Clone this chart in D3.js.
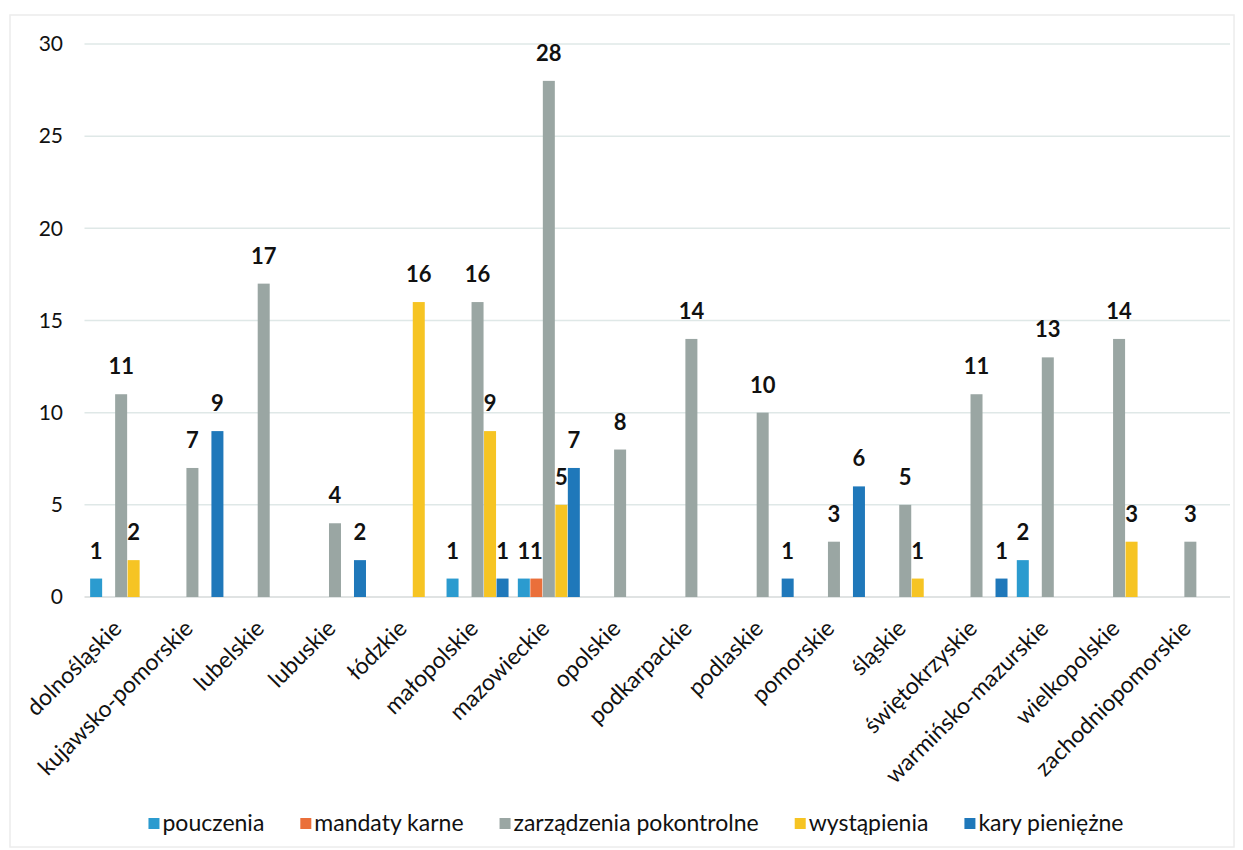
<!DOCTYPE html>
<html>
<head>
<meta charset="utf-8">
<script src="https://cdn.jsdelivr.net/npm/d3@7"></script>
<style>
  html, body { margin: 0; padding: 0; background: #fff; }
  svg { display: block; font-family: Lato, "Open Sans", sans-serif; }
</style>
</head>
<body>
<svg id="chart" width="1243" height="850"></svg>
<script>
const categories = ["dolnośląskie","kujawsko-pomorskie","lubelskie","lubuskie","łódzkie","małopolskie","mazowieckie","opolskie","podkarpackie","podlaskie","pomorskie","śląskie","świętokrzyskie","warmińsko-mazurskie","wielkopolskie","zachodniopomorskie"];
const seriesNames = ["pouczenia","mandaty karne","zarządzenia pokontrolne","wystąpienia","kary pieniężne"];
const seriesColors = ["#2b9bcf","#ea6f3a","#9aa6a3","#f6c423","#1f78ba"];
const pouczenia   = [1,0,0,0,0,1,1,0,0,0,0,0,0,2,0,0];
const mandatyKarne= [0,0,0,0,0,0,1,0,0,0,0,0,0,0,0,0];
const zarzadzenia = [11,7,17,4,0,16,28,8,14,10,3,5,11,13,14,3];
const wystapienia = [2,0,0,0,16,9,5,0,0,0,0,1,0,0,3,0];
const karyPieniezne=[0,9,0,2,0,1,7,0,0,1,6,0,1,0,0,0];
const yTicks = [0,5,10,15,20,25,30];

const seriesValues = [pouczenia, mandatyKarne, zarzadzenia, wystapienia, karyPieniezne];
const svg = d3.select("#chart");

// faint outer frame
svg.append("rect").attr("x",10).attr("y",15).attr("width",1224).attr("height",832)
  .attr("fill","none").attr("stroke","#ececec").attr("stroke-width",1.5);

const plotLeft = 85.5, plotRight = 1226, yBottom = 597, yTop = 44;
const y = d3.scaleLinear().domain([0,30]).range([yBottom, yTop]);
const x0 = d3.scaleBand().domain(categories).range([plotLeft, plotRight]).padding(0);
const groupW = 62.5;
const x1 = d3.scaleBand().domain(seriesNames)
  .range([(x0.bandwidth()-groupW)/2, (x0.bandwidth()+groupW)/2]).padding(0);

// gridlines
const grid = svg.append("g");
grid.selectAll("line").data(yTicks).join("line")
  .attr("x1", plotLeft - 1).attr("x2", plotRight + 4)
  .attr("y1", d => y(d)).attr("y2", d => y(d))
  .attr("stroke", d => d === 0 ? "#d6dada" : "#dfe8e7").attr("stroke-width", 1.5);

// y axis labels
const yAxis = d3.axisLeft(y).tickValues(yTicks).tickSize(0).tickPadding(0);
const yg = svg.append("g").attr("transform", "translate(63,0)").call(yAxis);
yg.select(".domain").remove();
yg.selectAll("text").attr("font-size", 21).attr("fill", "#111").attr("font-family","Lato, sans-serif");

// bars
const bw = 12;
const data = [];
categories.forEach((c, i) => {
  seriesNames.forEach((s, j) => {
    const v = seriesValues[j][i];
    if (v > 0) data.push({cat: c, ser: s, v, color: seriesColors[j]});
  });
});
const cx = d => x0(d.cat) + x1(d.ser) + x1.bandwidth()/2;
svg.append("g").selectAll("rect").data(data).join("rect")
  .attr("x", d => cx(d) - bw/2)
  .attr("y", d => y(d.v))
  .attr("width", bw)
  .attr("height", d => y(0) - y(d.v))
  .attr("fill", d => d.color);

// value labels
svg.append("g").selectAll("text").data(data).join("text")
  .attr("x", d => cx(d))
  .attr("y", d => y(d.v) - 20)
  .attr("text-anchor", "middle")
  .attr("font-size", 22).attr("font-weight", "bold").attr("fill", "#111")
  .text(d => d.v);

// category labels
const xAxis = d3.axisBottom(x0).tickSize(0).tickPadding(0);
const xg = svg.append("g").attr("transform", `translate(0,${yBottom})`).call(xAxis);
xg.select(".domain").remove();
xg.selectAll(".tick text")
  .attr("font-size", 23).attr("fill", "#111").attr("font-family","Lato, sans-serif")
  .attr("text-anchor", "end")
  .attr("dy", 0)
  .attr("transform", "translate(2,33) rotate(-45)")
  .attr("y", 0).attr("x", 0);

// legend
const legend = svg.append("g");
const items = legend.selectAll("g").data(seriesNames).join("g");
items.append("rect").attr("width", 11).attr("height", 11).attr("y", -13)
  .attr("fill", (d,i) => seriesColors[i]);
items.append("text").attr("x", 14).attr("y", 0).attr("font-size", 23).attr("fill", "#111")
  .text(d => d);
let widths = [];
items.each(function(){ widths.push(this.getBBox().width); });
const gap = 36;
const total = d3.sum(widths) + gap*(widths.length-1);
let lx = 636 - total/2;
items.attr("transform", (d,i) => { const t = `translate(${lx},831)`; lx += widths[i] + gap; return t; });
</script>
</body>
</html>
